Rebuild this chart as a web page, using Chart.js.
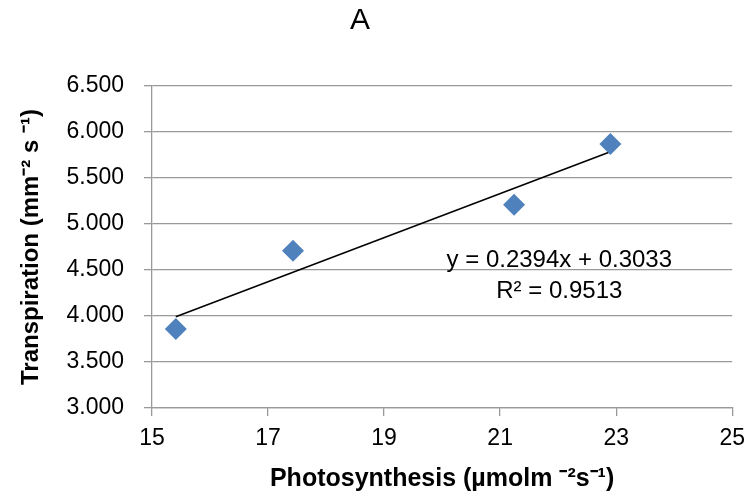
<!DOCTYPE html>
<html>
<head>
<meta charset="utf-8">
<script src="https://cdn.jsdelivr.net/npm/chart.js@4"></script>
<style>
  html, body { margin: 0; padding: 0; background: #fff; }
  #wrap { width: 754px; height: 499px; }
</style>
</head>
<body>
<div id="wrap"><canvas id="chart1"></canvas></div>
<script>
Chart.defaults.font.family = '"Liberation Sans", Arial, sans-serif'
Chart.defaults.color = '#000'

// photosynthesis vs transpiration
const photosynthesis = [15.41, 17.43, 21.24, 22.90]
const transpiration = [3.86, 4.71, 5.21, 5.87]

// linear trendline: y = 0.2394x + 0.3033
const slope = 0.2394
const intercept = 0.3033
const r2 = 0.9513
const trendX = [15.41, 22.90]

const chartTitle = 'A'
const equationLabel = 'y = ' + slope + 'x + ' + intercept
const r2Label = 'R² = ' + r2

const points = photosynthesis.map((x, i) => ({ x: x, y: transpiration[i] }))
const trend = trendX.map(x => ({ x: x, y: slope * x + intercept }))

// panel letter (centred over the whole figure, not the plot area) + trendline equation
const extraText = {
    id: 'extraText',
    afterDatasetsDraw(chart) {
        const ctx = chart.ctx
        const xs = chart.scales.x
        const ys = chart.scales.y
        ctx.save()
        ctx.fillStyle = '#000'
        ctx.textAlign = 'center'
        ctx.textBaseline = 'middle'

        ctx.font = '30px "Liberation Sans", Arial, sans-serif'
        ctx.fillText(chartTitle, chart.width / 2 - 17, 21)

        ctx.font = '24px "Liberation Sans", Arial, sans-serif'
        ctx.fillText(equationLabel, xs.getPixelForValue(22.02), ys.getPixelForValue(4.61))
        ctx.fillText(r2Label, xs.getPixelForValue(22.02), ys.getPixelForValue(4.27))
        ctx.restore()
    }
}

const data = {
    datasets: [
        {
            type: 'scatter',
            data: points,
            pointStyle: 'rectRot',
            pointRadius: 11,
            pointHoverRadius: 11,
            backgroundColor: '#4F81BD',
            borderColor: '#4F81BD',
            borderWidth: 0
        },
        {
            type: 'line',
            data: trend,
            borderColor: '#000',
            borderWidth: 1.5,
            pointRadius: 0,
            fill: false
        }
    ]
}

const options = {
    responsive: true,
    maintainAspectRatio: false,
    animation: false,
    layout: { padding: { top: 86, right: 18, left: 0, bottom: 0 } },
    plugins: {
        legend: { display: false },
        tooltip: { enabled: false }
    },
    scales: {
        x: {
            type: 'linear',
            min: 15,
            max: 25,
            afterFit: scale => { scale.height = 91 },
            ticks: { stepSize: 2, font: { size: 23 }, padding: 9 },
            grid: { drawOnChartArea: false, drawTicks: true, tickLength: 8, color: '#999', lineWidth: 1.3 },
            border: { display: true, color: '#999', width: 1.3 },
            title: {
                display: true,
                text: 'Photosynthesis (µmolm ⁻²s⁻¹)',
                font: { size: 25, weight: 'bold' },
                padding: { top: 0, bottom: 5 }
            }
        },
        y: {
            type: 'linear',
            min: 3,
            max: 6.5,
            afterFit: scale => { scale.width = 152 },
            ticks: {
                stepSize: 0.5,
                font: { size: 23 },
                padding: 20,
                callback: v => v.toFixed(3)
            },
            grid: { drawTicks: true, tickLength: 8, color: '#999', lineWidth: 1.3 },
            border: { display: true, color: '#999', width: 1.3 },
            title: {
                display: true,
                text: 'Transpiration (mm⁻² s ⁻¹)',
                font: { size: 24, weight: 'bold' },
                padding: { top: 17, bottom: 0 }
            }
        }
    }
}

new Chart('chart1', { data, options, plugins: [extraText] })
</script>
</body>
</html>
